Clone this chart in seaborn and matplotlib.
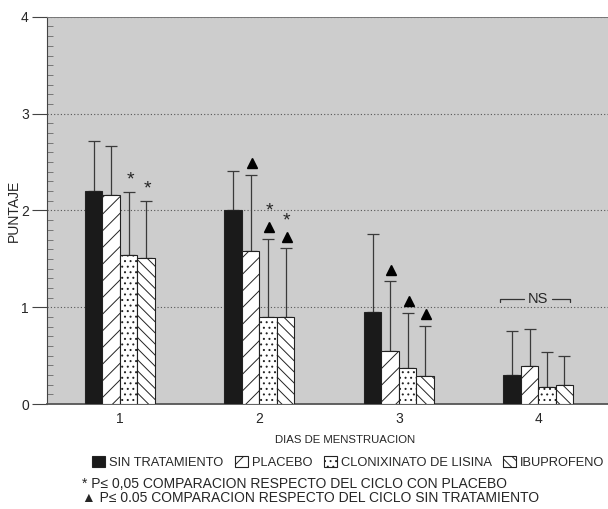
import pandas as pd
import matplotlib.pyplot as plt
from matplotlib.patches import Patch
from matplotlib.ticker import MultipleLocator
import seaborn as sns

# datos
dias = ['1', '2', '3', '4']
grupos = ['SIN TRATAMIENTO', 'PLACEBO', 'CLONIXINATO DE LISINA', 'IBUPROFENO']
sin_trat = [2.20, 2.00, 0.95, 0.30]
placebo = [2.16, 1.58, 0.55, 0.39]
clonix = [1.54, 0.90, 0.37, 0.18]
ibupro = [1.51, 0.90, 0.29, 0.20]
# extremo superior de la barra de error
sin_trat_err = [2.72, 2.41, 1.76, 0.76]
placebo_err = [2.67, 2.37, 1.27, 0.78]
clonix_err = [2.19, 1.71, 0.94, 0.54]
ibupro_err = [2.10, 1.61, 0.81, 0.50]
# significancia: (indice dia, indice grupo)
estrellas = [(0, 2), (0, 3), (1, 2), (1, 3)]
triangulos = [(1, 1), (1, 2), (1, 3), (2, 1), (2, 2), (2, 3)]

valores = [sin_trat, placebo, clonix, ibupro]
errores = [sin_trat_err, placebo_err, clonix_err, ibupro_err]

df = pd.DataFrame({
    'dia': [d for g in grupos for d in dias],
    'grupo': [g for g in grupos for d in dias],
    'puntaje': [v for vals in valores for v in vals],
})

sns.set_style('white')
plt.rcParams['font.family'] = ['Liberation Sans', 'DejaVu Sans']
plt.rcParams['hatch.linewidth'] = 0.7

fig = plt.figure(figsize=(6.08, 5.09), dpi=100)
ax = fig.add_axes([0.077, 0.206, 0.923, 0.761])
ax.set_facecolor('#cdcdcd')

colores = ['#1a1a1a', 'white', 'white', 'white']
hatches = ['', '//', '...', '\\\\\\']
sns.barplot(data=df, x='dia', y='puntaje', hue='grupo', order=dias, hue_order=grupos,
            palette=colores, width=0.5, edgecolor='#222222', linewidth=0.8,
            errorbar=None, legend=False, ax=ax, zorder=3)

barras = list(ax.containers)
for cont, h in zip(barras, hatches):
    for bar in cont:
        bar.set_hatch(h)

# barras de error (solo hacia arriba)
centros = []
for k, cont in enumerate(barras):
    xs = [b.get_x() + b.get_width() / 2 for b in cont]
    centros.append(xs)
    tops = [b.get_height() for b in cont]
    sup = [e - t for e, t in zip(errores[k], tops)]
    ax.errorbar(xs, tops, yerr=[[0] * len(tops), sup], fmt='none', ecolor='#3a3a3a',
                elinewidth=0.9, capsize=4, capthick=0.9, zorder=2)

for d, g in triangulos:
    ax.plot(centros[g][d] + 0.01, errores[g][d] + 0.12, marker='^', color='black',
            markersize=7, linestyle='none', zorder=4)
for d, g in estrellas:
    extra = 0.28 if (d, g) in triangulos else 0.12
    ax.text(centros[g][d] + 0.01, errores[g][d] + extra, '*', ha='center', va='center',
            fontsize=14, zorder=4)

# NS sobre el dia 4
x0 = centros[0][3] - 0.09
x1 = centros[3][3] + 0.04
ax.plot([x0, x0, 2.9], [1.05, 1.085, 1.085], color='#333333', lw=0.9, zorder=4)
ax.plot([3.1, x1, x1], [1.085, 1.085, 1.05], color='#333333', lw=0.9, zorder=4)
ax.text(3.0, 1.085, 'NS', ha='center', va='center', fontsize=10.5, zorder=4)

ax.set_xlim(-0.524, 3.5)
ax.set_ylim(0, 4)
ax.set_yticks([0, 1, 2, 3, 4])
ax.yaxis.set_minor_locator(MultipleLocator(0.1))
ax.tick_params(axis='y', which='major', left=True, direction='out', length=11, width=0.8,
               pad=2, labelsize=10, color='#444444')
ax.tick_params(axis='y', which='minor', left=True, direction='in', length=4, width=0.5,
               color='#555555')
ax.tick_params(axis='x', length=0, labelsize=10, pad=6)
ax.set_xlabel('')
ax.set_ylabel('PUNTAJE', fontsize=10)
ax.yaxis.set_label_coords(-0.046, 0.5)
ax.grid(axis='y', which='major', linestyle=(0, (1, 2)), color='#555555', lw=0.8, zorder=1)
ax.set_axisbelow(True)
ax.spines['right'].set_visible(False)
ax.spines['top'].set_color('#777777')
ax.spines['top'].set_linewidth(0.7)
ax.spines['left'].set_color('#444444')
ax.spines['bottom'].set_color('#555555')
ax.spines['bottom'].set_linewidth(1.3)

fig.text(0.567, 0.136, 'DIAS DE MENSTRUACION', ha='center', va='center', fontsize=8.2)

handles = [Patch(facecolor=c, edgecolor='#222222', hatch=h, linewidth=0.8)
           for c, h in zip(colores, hatches)]
fig.legend(handles, grupos, loc='center left', bbox_to_anchor=(0.152, 0.092), ncol=4,
           frameon=False, fontsize=9.3, handlelength=1.0, handleheight=1.0,
           handletextpad=0.3, columnspacing=0.9, borderaxespad=0, borderpad=0)

fig.text(0.135, 0.049, '* P\u2264 0,05 COMPARACION RESPECTO DEL CICLO CON PLACEBO',
         ha='left', va='center', fontsize=10)
fig.text(0.135, 0.021, '\u25b2 P\u2264 0.05 COMPARACION RESPECTO DEL CICLO SIN TRATAMIENTO',
         ha='left', va='center', fontsize=10)

fig.savefig('out.png', dpi=100)
